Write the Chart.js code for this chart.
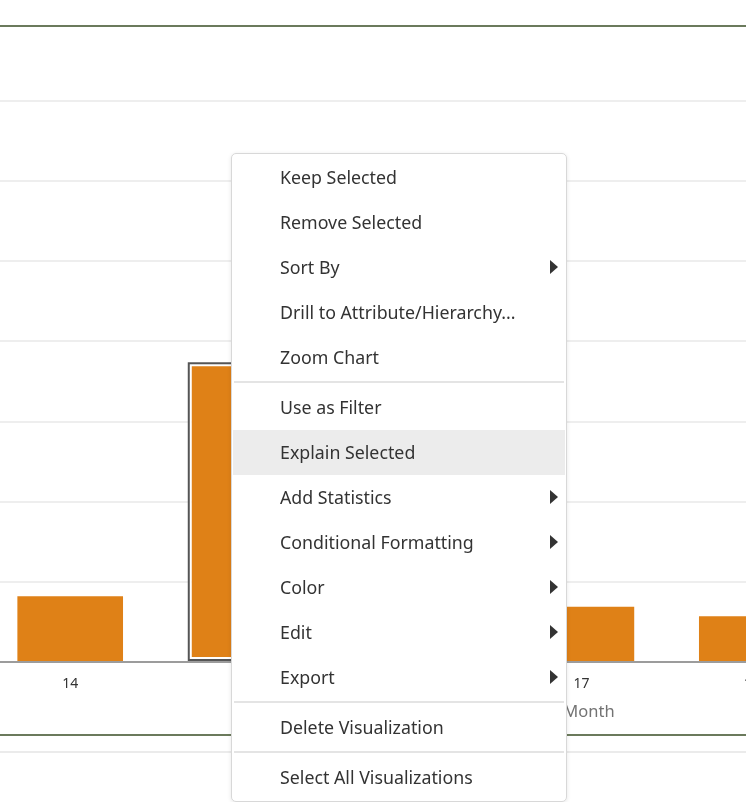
<!DOCTYPE html>
<html>
<head>
<meta charset="utf-8">
<script src="https://cdn.jsdelivr.net/npm/chart.js@4.4.1/dist/chart.umd.min.js"></script>
<style>
  html, body { margin: 0; padding: 0; background: #fff; }
  body { width: 746px; height: 802px; position: relative; overflow: hidden; font-family: "Noto Sans", sans-serif; }
  #chart { position: absolute; left: -15px; top: 0; }
  .hline { position: absolute; left: 0; width: 746px; }
  #topGreen { top: 25px; height: 2px; background: #6b7a5c; }
  #botGreen { top: 734px; height: 2px; background: #6b7a5c; }
  #botGray { top: 751px; height: 2px; background: #ebebeb; }
  #xTitle { position: absolute; top: 700px; left: 589px; transform: translateX(-50%); font-size: 16.5px; color: #737373; line-height: 22px; white-space: nowrap; }
  #menu { position: absolute; left: 231px; top: 153px; width: 336px; height: 649px; box-sizing: border-box;
          background: #fff; border: 1px solid #d8d8d8; border-radius: 5px; box-shadow: 0 1px 4px rgba(0,0,0,0.10);
          padding-top: 1px; }
  .item { position: relative; height: 45px; line-height: 45px; margin: 0 1px; padding-left: 47px; font-size: 17.8px; color: #333; white-space: nowrap; }
  .item.hl { background: #ececec; }
  .item.sub::after { content: ""; position: absolute; right: 7px; top: 15px; width: 0; height: 0;
          border-left: 8px solid #333; border-top: 7.5px solid transparent; border-bottom: 7.5px solid transparent; }
  .sep { height: 2px; margin: 1px 2px 2px; background: #e4e4e4; }
</style>
</head>
<body>
<div id="topGreen" class="hline"></div>
<canvas id="chart" width="852" height="802" style="width:852px;height:802px"></canvas>
<div id="botGreen" class="hline"></div>
<div id="botGray" class="hline"></div>
<div id="xTitle">Month</div>
<div id="menu">
  <div class="item">Keep Selected</div>
  <div class="item">Remove Selected</div>
  <div class="item sub">Sort By</div>
  <div class="item">Drill to Attribute/Hierarchy...</div>
  <div class="item">Zoom Chart</div>
  <div class="sep"></div>
  <div class="item">Use as Filter</div>
  <div class="item hl">Explain Selected</div>
  <div class="item sub">Add Statistics</div>
  <div class="item sub">Conditional Formatting</div>
  <div class="item sub">Color</div>
  <div class="item sub">Edit</div>
  <div class="item sub">Export</div>
  <div class="sep"></div>
  <div class="item">Delete Visualization</div>
  <div class="sep"></div>
  <div class="item">Select All Visualizations</div>
</div>
<script>
// ---- data ----
const months = ['14', '15', '16', '17', '18'];
const values = [8.2, 37.4, 7.0, 6.9, 5.7];
const selectedIndex = 1;
const yTicksMax = 70;
const yTickStep = 10;

const barColor = '#df8117';

const selectionOutline = {
  id: 'selectionOutline',
  afterDatasetsDraw(chart) {
    const bar = chart.getDatasetMeta(0).data[selectedIndex];
    if (!bar) return;
    const p = bar.getProps(['x', 'y', 'base', 'width'], true);
    const left = p.x - p.width / 2, top = Math.min(p.y, p.base), bottom = Math.max(p.y, p.base);
    const ctx = chart.ctx;
    ctx.save();
    ctx.strokeStyle = '#555';
    ctx.lineWidth = 2;
    ctx.strokeRect(left + 1, top + 1, p.width - 2, bottom - top - 2);
    ctx.restore();
  }
};

new Chart(document.getElementById('chart'), {
  type: 'bar',
  data: {
    labels: months,
    datasets: [{
      data: values,
      backgroundColor: barColor,
      borderColor: '#ffffff',
      borderWidth: (c) => c.dataIndex === selectedIndex ? 4 : 0,
      borderSkipped: (c) => c.dataIndex === selectedIndex ? false : 'start',
      barPercentage: 0.62,
      categoryPercentage: 1.0
    }]
  },
  options: {
    responsive: false,
    animation: false,
    events: [],
    layout: { padding: { top: 101, bottom: 96, left: 0, right: 0 } },
    plugins: { legend: { display: false }, tooltip: { enabled: false } },
    scales: {
      x: {
        offset: true,
        grid: { display: false, drawTicks: false },
        border: { display: false },
        ticks: { color: '#333', padding: 14, font: { family: 'Noto Sans', size: 14, lineHeight: '16px' } }
      },
      y: {
        min: 0, max: yTicksMax,
        ticks: { display: false, stepSize: yTickStep },
        border: { display: false },
        grid: {
          drawTicks: false,
          lineWidth: 2,
          color: (c) => (c.tick && c.tick.value === 0) ? '#9c9c9c' : '#eeeeee'
        }
      }
    }
  },
  plugins: [selectionOutline]
});
</script>
</body>
</html>
